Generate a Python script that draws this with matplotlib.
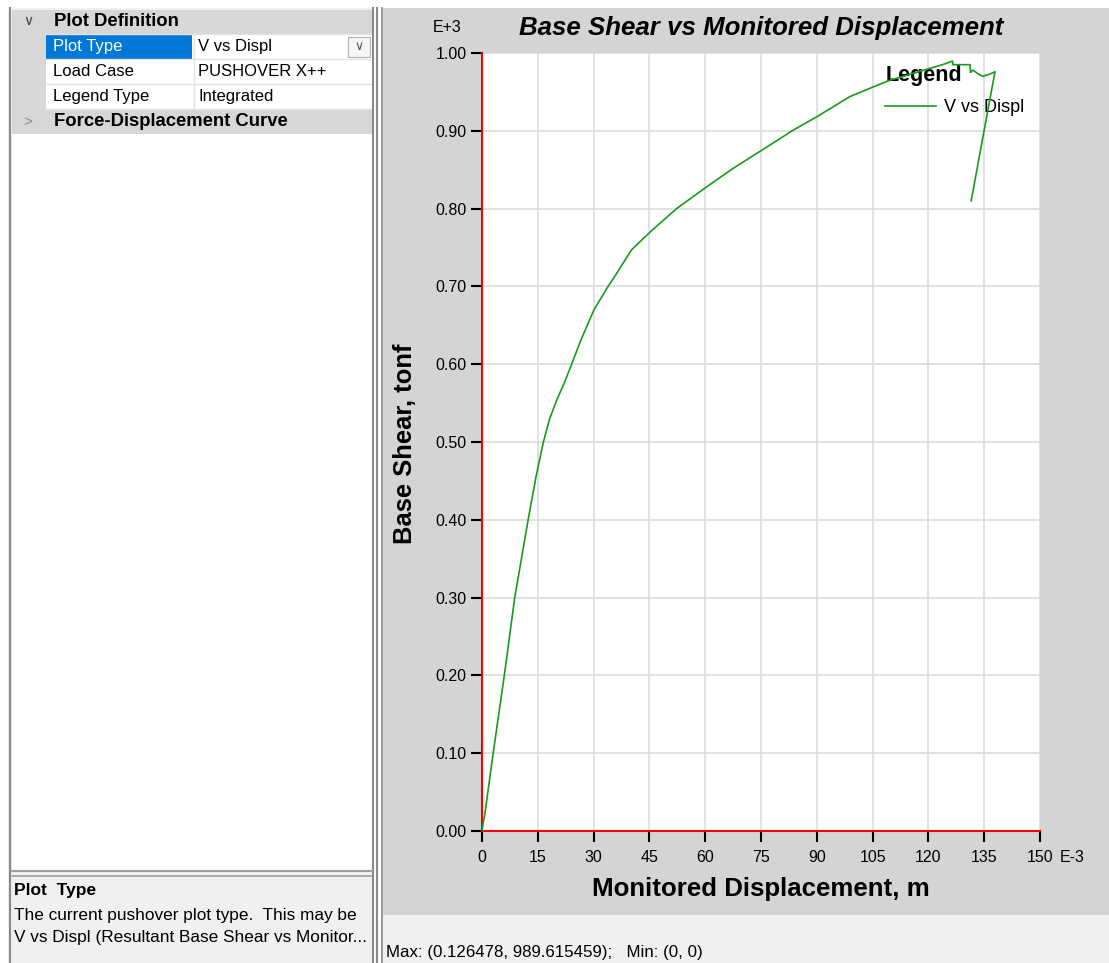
import matplotlib
matplotlib.use("Agg")
import matplotlib.pyplot as plt
from matplotlib.patches import Rectangle
from matplotlib.lines import Line2D

plt.rcParams["font.family"] = ["Liberation Sans", "DejaVu Sans"]

# pushover curve (displacement in E-3 m, base shear in E+3 tonf)
displ = [0, 0.3, 0.8, 3.0, 6.0, 8.8, 12.4, 14.5, 16.5, 18.2, 20.1, 22.3, 24.1,
         26.5, 30.1, 33.9, 35.3, 40.2, 45.2, 52.3, 60.4, 67.6, 75.2, 83.7,
         90.0, 98.9, 106.5, 109.7, 119.5, 123.8, 126.48, 126.6, 128.9, 131.2,
         131.3, 132.0, 133.4, 134.6, 136.6, 137.9, 131.5]
shear = [0, 0.010, 0.023, 0.100, 0.200, 0.300, 0.400, 0.455, 0.500, 0.530,
         0.554, 0.578, 0.600, 0.630, 0.670, 0.700, 0.710, 0.747, 0.770, 0.800,
         0.828, 0.852, 0.875, 0.901, 0.918, 0.944, 0.959, 0.965, 0.979, 0.985,
         0.9896, 0.985, 0.985, 0.985, 0.975, 0.978, 0.973, 0.970, 0.973,
         0.976, 0.810]

x_ticks = [0, 15, 30, 45, 60, 75, 90, 105, 120, 135, 150]
y_ticks = [0.0, 0.1, 0.2, 0.3, 0.4, 0.5, 0.6, 0.7, 0.8, 0.9, 1.0]

grid_rows = [("Plot Type", "V vs Displ"),
             ("Load Case", "PUSHOVER X++"),
             ("Legend Type", "Integrated")]

W, H = 1109, 963
fig = plt.figure(figsize=(W / 100, H / 100), dpi=100)
fig.patch.set_facecolor("white")


def fx(x):
    return x / W


def fy(y):
    return 1 - y / H


def box(x0, y0, x1, y1, fc, ec="none", lw=0):
    fig.patches.append(Rectangle((fx(x0), fy(y1)), fx(x1 - x0), (y1 - y0) / H,
                                 transform=fig.transFigure, facecolor=fc,
                                 edgecolor=ec, linewidth=lw, zorder=-1))


def vline(x, y0, y1, color, lw=1):
    fig.add_artist(Line2D([fx(x), fx(x)], [fy(y0), fy(y1)], color=color,
                          lw=lw, transform=fig.transFigure))


def hline(y, x0, x1, color, lw=1):
    fig.add_artist(Line2D([fx(x0), fx(x1)], [fy(y), fy(y)], color=color,
                          lw=lw, transform=fig.transFigure))


# -------- left property panel --------
box(8, 8, 374, 963, "#f0f0f0")
box(12, 10, 372, 870, "white")
box(12, 10, 372, 34, "#d7d7d7")
box(12, 110, 372, 134, "#d7d7d7")
box(12, 34, 46, 110, "#d7d7d7")
box(46, 35, 192, 59, "#0078d7")
for i in range(4):
    hline(34 + 25 * i, 46, 372, "#e3e3e3")
vline(194, 34, 110, "#e3e3e3")
box(348, 37, 370, 57, "#f5f5f5", ec="#b0b0b0", lw=0.8)
fig.text(fx(359), fy(47), "\u2228", ha="center", va="center", fontsize=9,
         color="#555555")

fig.text(fx(28), fy(21), "\u2228", ha="center", va="center", fontsize=10,
         color="#444444")
fig.text(fx(54), fy(21), "Plot Definition", ha="left", va="center",
         fontsize=13.3, fontweight="bold")
fig.text(fx(28), fy(122), ">", ha="center", va="center", fontsize=11,
         color="#888888")
fig.text(fx(54), fy(122), "Force-Displacement Curve", ha="left", va="center",
         fontsize=13.3, fontweight="bold")
for i, (name, val) in enumerate(grid_rows):
    yc = 47 + 25 * i
    fig.text(fx(53), fy(yc), name, ha="left", va="center", fontsize=12,
             color="white" if i == 0 else "black")
    fig.text(fx(198), fy(yc), val, ha="left", va="center", fontsize=12)

vline(10, 8, 963, "#8a8a8a", 1.5)
vline(373, 8, 963, "#8a8a8a", 1.5)
vline(377, 8, 963, "#8a8a8a", 1.5)
hline(871, 12, 372, "#a0a0a0", 1.5)
hline(876, 12, 372, "#a0a0a0", 1.2)
fig.text(fx(14), fy(890), "Plot  Type", ha="left", va="center", fontsize=12.5,
         fontweight="bold")
fig.text(fx(14), fy(915), "The current pushover plot type.  This may be",
         ha="left", va="center", fontsize=12.4)
fig.text(fx(14), fy(937), "V vs Displ (Resultant Base Shear vs Monitor...",
         ha="left", va="center", fontsize=12.4)

# -------- right chart panel --------
box(383, 8, W, 915, "#d4d4d4")
box(383, 915, W, 963, "#f0f0f0")
vline(382, 8, 963, "#8a8a8a", 1.2)
fig.text(fx(386), fy(952), "Max: (0.126478, 989.615459);   Min: (0, 0)",
         ha="left", va="center", fontsize=12.2)

ax = fig.add_axes([fx(482), fy(831), fx(1040 - 482), (831 - 53) / H])
ax.set_zorder(1)
ax.set_facecolor("white")
ax.plot(displ, shear, color="#1a9a1a", lw=1.2, label="V vs Displ", zorder=3)
ax.set_xlim(0, 150)
ax.set_ylim(0, 1.0)
ax.set_xticks(x_ticks)
ax.set_yticks(y_ticks)
ax.set_xticklabels([str(t) for t in x_ticks])
ax.set_yticklabels([f"{t:.2f}" for t in y_ticks])
ax.grid(True, color="#dcdcdc", lw=1.2)
ax.set_axisbelow(True)
for side in ["top", "right"]:
    ax.spines[side].set_visible(False)
ax.spines["left"].set_color("red")
ax.spines["bottom"].set_color("red")
ax.spines["left"].set_linewidth(1.5)
ax.spines["bottom"].set_linewidth(1.5)
ax.tick_params(direction="out", length=8, width=1.5, color="black",
               labelsize=11.5)
ax.tick_params(axis="x", pad=6)
ax.tick_params(axis="y", pad=3)

fig.text(fx(761), fy(28), "Base Shear vs Monitored Displacement",
         ha="center", va="center", fontsize=18.6, fontweight="bold",
         fontstyle="italic")
fig.text(fx(447), fy(28), "E+3", ha="center", va="center", fontsize=11.5)
fig.text(fx(1060), fy(857), "E-3", ha="left", va="center", fontsize=11.5)
fig.text(fx(761), fy(889), "Monitored Displacement, m", ha="center",
         va="center", fontsize=18.6, fontweight="bold")
fig.text(fx(405), fy(444), "Base Shear, tonf", ha="center", va="center",
         fontsize=18.4, fontweight="bold", rotation=90)

leg = ax.legend(loc="upper left", bbox_to_anchor=(0.713, 0.992),
                frameon=False, title="Legend", fontsize=13, handlelength=2.8,
                handletextpad=0.45, borderaxespad=0, borderpad=0.3,
                labelspacing=0.75,
                title_fontproperties={"size": 15.5, "weight": "bold"})
leg._legend_box.align = "left"
leg.set_zorder(2)

fig.savefig("out.png", dpi=100)
